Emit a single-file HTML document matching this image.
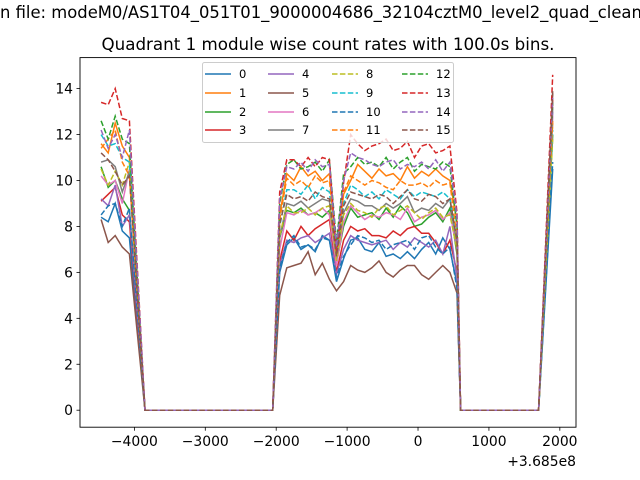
<!DOCTYPE html>
<html><head><meta charset="utf-8"><style>
body{margin:0;background:#fff;}
svg{display:block;font-family:"DejaVu Sans","Liberation Sans",sans-serif;}
</style></head><body>
<svg id="chart" width="640" height="480" xmlns="http://www.w3.org/2000/svg">
<rect width="640" height="480" fill="#fff"/>
<text x="0" y="18" font-size="16.4">n file: modeM0/AS1T04_051T01_9000004686_32104cztM0_level2_quad_clean.evt</text>
<text x="328" y="50" font-size="16.7" text-anchor="middle">Quadrant 1 module wise count rates with 100.0s bins.</text>
<g id="plot"></g>
<rect x="80" y="57.6" width="496" height="369.6" fill="none" stroke="#000" stroke-width="0.9"/>
<g id="axes"></g>
<text x="576" y="466" font-size="13.9" text-anchor="end">+3.685e8</text>
<g id="legend"></g>
</svg>
<script>
const times1 = [-4470,-4370,-4270,-4170,-4070];
const times2 = [-1950,-1850,-1750,-1650,-1550,-1450,-1350,-1250,-1150,-1050,-950,-850,-750,-650,-550,-450,-350,-250,-150,-50,50,150,250,350,450,550];
const zeroBefore = [-3850,-2050];
const zeroAfter = [600,1700];
const timeEnd = 1900;
const xTicks = [-4000,-3000,-2000,-1000,0,1000,2000];
const yTicks = [0,2,4,6,8,10,12,14];
const seriesNames = ["0","1","2","3","4","5","6","7","8","9","10","11","12","13","14","15"];
const seg1 = [
[8.4,8.2,9.0,7.8,7.5],[11.6,11.2,12.5,11.5,11.0],[10.6,9.7,10.0,9.2,8.7],[9.1,9.4,9.7,8.5,8.2],
[9.2,8.9,9.8,8.0,8.5],[8.3,7.3,7.6,7.1,6.8],[10.2,9.8,10.0,9.0,10.5],[10.8,10.9,10.6,9.5,10.4],
[10.5,9.8,10.4,9.8,10.8],[12.0,11.5,11.6,11.0,10.8],[8.5,8.9,9.0,8.0,8.8],[11.4,11.8,12.2,10.8,10.2],
[12.6,11.8,12.8,11.8,11.6],[13.4,13.3,14.0,12.7,12.6],[12.2,11.4,12.0,11.0,12.2],[11.2,10.9,10.4,9.8,10.2]];
const seg2 = [
[6.0,7.2,7.5,7.0,7.2,6.9,7.6,7.4,5.6,6.6,7.4,7.5,7.0,6.9,7.3,6.7,6.8,6.6,6.9,6.6,7.0,7.3,6.8,7.5,7.0,5.5],
[8.5,10.3,10.0,10.6,10.2,10.4,10.0,10.3,6.8,9.4,10.0,10.7,10.4,10.1,10.5,10.2,10.3,10.0,10.6,10.1,10.4,10.2,10.5,10.2,10.0,8.2],
[7.5,8.7,8.6,8.8,8.5,8.6,8.4,8.7,6.4,8.0,8.8,8.4,8.5,8.6,8.3,8.8,8.4,8.9,8.6,8.0,8.1,8.4,8.6,8.2,8.8,6.8],
[6.5,7.8,7.4,8.0,7.6,7.9,8.1,8.3,6.0,7.4,8.0,7.8,7.9,7.6,7.6,7.5,7.8,7.6,7.9,8.0,7.7,7.7,7.3,6.8,7.4,6.0],
[6.3,7.4,7.3,7.5,7.6,7.3,7.5,7.7,5.9,7.0,7.6,7.4,7.3,7.2,7.3,7.4,7.0,7.3,7.1,7.5,7.3,7.1,7.4,6.8,8.0,5.7],
[5.0,6.2,6.3,6.4,6.9,5.9,6.4,5.7,5.2,5.6,6.3,6.1,6.0,6.2,6.5,6.0,5.8,6.1,6.3,6.3,5.9,5.7,6.0,6.3,6.0,5.1],
[7.0,8.6,8.5,8.7,8.5,8.6,8.8,8.5,6.3,8.2,8.9,8.6,8.3,8.5,8.4,8.6,8.5,8.3,8.8,8.2,8.4,8.5,8.7,8.3,8.6,7.0],
[7.5,9.0,8.9,9.1,8.8,9.0,9.2,9.1,6.6,8.6,9.2,9.1,8.9,8.9,8.7,9.0,8.8,9.0,9.3,8.6,8.8,8.7,9.0,8.8,9.2,7.2],
[7.6,8.9,8.6,8.6,8.8,8.5,8.8,8.9,6.5,8.5,9.0,8.7,8.6,8.4,8.8,8.9,8.5,8.7,8.9,8.6,8.3,8.6,8.8,8.4,8.5,7.0],
[8.0,9.6,9.6,9.4,9.8,9.2,9.7,9.5,6.9,9.0,9.8,9.6,9.3,9.5,9.2,9.6,9.4,9.2,9.6,9.3,9.5,9.4,9.3,9.5,9.2,7.5],
[6.2,7.3,7.6,7.1,7.2,7.0,7.5,7.4,5.8,6.7,7.2,7.6,7.5,7.3,7.4,7.0,7.2,7.3,7.4,7.0,7.5,7.6,7.1,6.8,7.1,5.3],
[8.3,10.1,9.8,10.0,9.7,10.2,9.9,10.0,7.0,9.5,10.2,10.0,9.8,10.0,9.9,9.7,9.6,10.0,9.8,9.8,9.9,9.7,10.0,9.8,9.9,7.5],
[9.0,10.7,10.9,10.5,10.6,10.8,10.4,10.9,7.3,10.3,10.6,11.0,10.7,10.8,10.6,11.0,10.5,10.8,11.0,10.4,10.7,10.6,10.5,10.8,10.6,8.0],
[9.5,10.9,10.9,10.6,11.0,10.6,11.0,10.9,6.8,9.9,12.0,11.6,11.3,11.5,11.6,11.8,11.3,11.4,11.7,11.0,11.5,11.6,11.2,11.3,11.5,8.6],
[9.2,10.6,10.5,10.8,10.4,10.9,10.6,10.7,7.1,10.0,11.2,11.0,10.9,10.7,10.6,10.8,10.9,10.5,10.7,10.6,10.8,10.5,10.9,10.4,10.8,8.4],
[8.1,9.4,9.2,9.3,9.1,9.5,9.3,9.2,6.7,8.9,9.5,9.4,9.3,9.2,9.4,9.3,9.0,9.3,9.6,9.2,9.1,9.4,9.3,9.0,9.2,7.4]];
const endVals = [10.5,12.5,12.0,13.5,13.0,13.8,12.8,13.2,11.8,12.2,10.8,12.6,13.4,14.6,13.6,13.9];

const colors=["#1f77b4","#ff7f0e","#2ca02c","#d62728","#9467bd","#8c564b","#e377c2","#7f7f7f","#bcbd22","#17becf"];
const X0=-4767, X1=2228, Y0=-0.74, Y1=15.35;
const L=80,R=576,T=57.6,B=427.2;
function sx(v){return L+(v-X0)/(X1-X0)*(R-L);}
function sy(v){return B-(v-Y0)/(Y1-Y0)*(B-T);}
const NS="http://www.w3.org/2000/svg";
function mk(tag,attrs,parent,text){const e=document.createElementNS(NS,tag);for(const k in attrs)e.setAttribute(k,attrs[k]);if(text!==undefined)e.textContent=text;parent.appendChild(e);return e;}
const plot=document.getElementById('plot');
for(let s=0;s<16;s++){
  const pts=[];
  times1.forEach((t,i)=>pts.push([t,seg1[s][i]]));
  zeroBefore.forEach(t=>pts.push([t,0]));
  times2.forEach((t,i)=>pts.push([t,seg2[s][i]]));
  zeroAfter.forEach(t=>pts.push([t,0]));
  pts.push([timeEnd,endVals[s]]);
  const d=pts.map((p,i)=>(i?'L':'M')+sx(p[0]).toFixed(1)+' '+sy(p[1]).toFixed(1)).join(' ');
  const p=mk('path',{d:d,fill:'none',stroke:colors[s%10],'stroke-width':1.5,'stroke-dasharray':s>=8?'5.5,2.4':'none'},plot);
  
  
}
const axes=document.getElementById('axes');
xTicks.forEach(v=>{
  const x=sx(v);
  const t=mk('line',{x1:x,x2:x,y1:B,y2:B+3.5,stroke:'#000','stroke-width':0.8},axes);
  
  
  const lb=mk('text',{x:x,y:B+19,'font-size':13.9,'text-anchor':'middle'},axes,v<0?'\u2212'+Math.abs(v):String(v));
  
  
});
yTicks.forEach(v=>{
  const y=sy(v);
  const t=mk('line',{x1:L-3.5,x2:L,y1:y,y2:y,stroke:'#000','stroke-width':0.8},axes);
  
  
  const lb=mk('text',{x:L-7,y:y+5,'font-size':13.9,'text-anchor':'end'},axes,String(v));
  
  
});
const leg=document.getElementById('legend');
const box=mk('rect',{x:202.5,y:62.5,width:251,height:80,rx:2,fill:'#fff','fill-opacity':0.8,stroke:'#ccc','stroke-width':1},leg);


const colX=[205,268,332,402], rowY=[74,93,112,130];
for(let s=0;s<16;s++){
  const c=Math.floor(s/4), r=s%4;
  const g=mk('g',{},leg);
  
  
  mk('line',{x1:colX[c],x2:colX[c]+26,y1:rowY[r],y2:rowY[r],stroke:colors[s%10],'stroke-width':1.5,'stroke-dasharray':s>=8?'5.5,2.4':'none'},g);
  mk('text',{x:colX[c]+34,y:rowY[r]+4,'font-size':11.5},g,seriesNames[s]);
}
</script>
</body></html>
